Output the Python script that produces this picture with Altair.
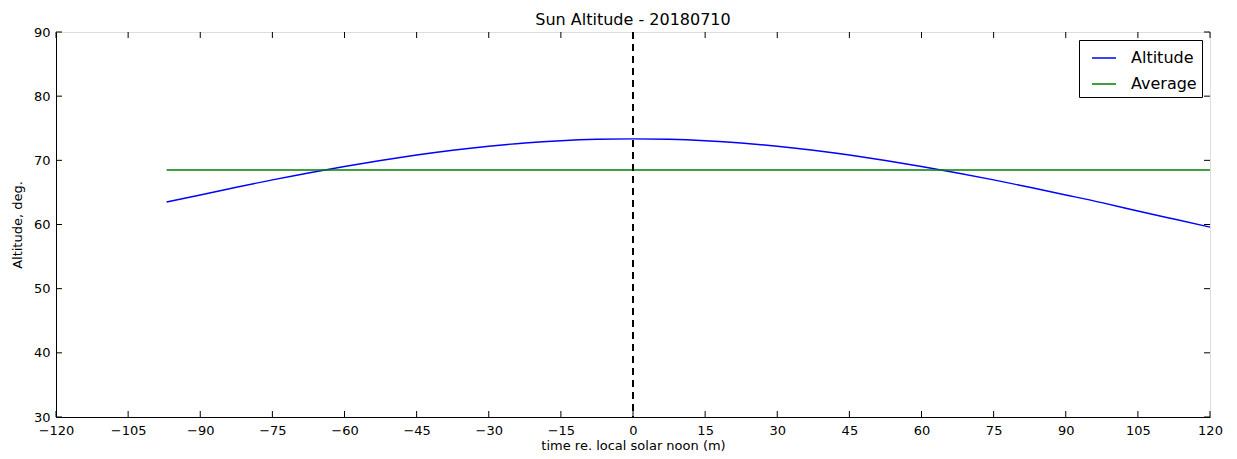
import altair as alt
import pandas as pd

# ---- data ----
minutes = [-97, -90, -82.5, -75, -67.5, -60, -52.5, -45, -37.5, -30, -22.5, -15, -7.5, 0,
           7.5, 15, 22.5, 30, 37.5, 45, 52.5, 60, 67.5, 75, 82.5, 90, 97.5, 105, 112.5, 120]
altitude = [63.50, 64.60, 65.80, 66.95, 68.02, 69.03, 69.97, 70.83, 71.58, 72.20, 72.70, 73.06, 73.28, 73.35,
            73.28, 73.06, 72.70, 72.20, 71.58, 70.83, 69.97, 69.03, 68.02, 66.95, 65.80, 64.60, 63.40, 62.10, 60.85, 59.60]
avg_minutes = [-97, 120]
avg_altitude = 68.5
noon = [0]
x_ticks = list(range(-120, 121, 15))
y_ticks = list(range(30, 91, 10))

W, H = 1154, 385
FONT = "DejaVu Sans"

rows = [{"t": t, "alt": a, "series": "Altitude"} for t, a in zip(minutes, altitude)]
rows += [{"t": t, "alt": avg_altitude, "series": "Average"} for t in avg_minutes]
df = pd.DataFrame(rows)

xscale = alt.Scale(domain=[-120, 120], nice=False, zero=False)
yscale = alt.Scale(domain=[30, 90], nice=False, zero=False)

xaxis = alt.Axis(values=x_ticks, format="d", tickSize=0, labelPadding=7, labelFontSize=13,
                 labelFont=FONT, labelColor="black", domainColor="black", grid=False,
                 labelFlush=False, labelOverlap=False,
                 title="time re. local solar noon (m)", titleFont=FONT, titleFontSize=13,
                 titleFontWeight="normal", titleColor="black", titleY=22, titleBaseline="top")
yaxis = alt.Axis(values=y_ticks, format="d", tickSize=0, labelPadding=6, labelFontSize=13,
                 labelFont=FONT, labelColor="black", domainColor="black", grid=False,
                 labelFlush=False, labelOverlap=False,
                 title="Altitude, deg.", titleFont=FONT, titleFontSize=13, titleFontWeight="normal",
                 titleColor="black", titleX=-39, titleY=H / 2, titleAngle=270,
                 titleAlign="center", titleBaseline="middle")

lines = alt.Chart(df).mark_line(strokeWidth=1.4, interpolate="natural").encode(
    x=alt.X("t:Q", scale=xscale, axis=xaxis),
    y=alt.Y("alt:Q", scale=yscale, axis=yaxis),
    color=alt.Color("series:N",
                    scale=alt.Scale(domain=["Altitude", "Average"], range=["#0000ff", "#008000"]),
                    legend=alt.Legend(title=None, orient="top-right", offset=8,
                                      strokeColor="black", fillColor="white", padding=5,
                                      cornerRadius=0, symbolType="stroke", symbolSize=576,
                                      symbolStrokeWidth=1.5, labelFontSize=16, labelFont=FONT,
                                      labelColor="black", labelOffset=14, symbolOffset=7,
                                      rowPadding=5)),
    detail="series:N",
)

vline = alt.Chart(pd.DataFrame({"t": noon})).mark_rule(
    color="black", strokeWidth=2, strokeDash=[7, 5]).encode(x=alt.X("t:Q", scale=xscale))

xt = pd.DataFrame({"v": x_ticks})
yt = pd.DataFrame({"v": y_ticks})
tick_style = dict(color="black", strokeWidth=1)
xt_bottom = alt.Chart(xt).mark_rule(**tick_style).encode(
    x=alt.X("v:Q", scale=xscale), y=alt.value(H), y2=alt.value(H - 6))
xt_top = alt.Chart(xt).mark_rule(**tick_style).encode(
    x=alt.X("v:Q", scale=xscale), y=alt.value(0), y2=alt.value(6))
yt_left = alt.Chart(yt).mark_rule(**tick_style).encode(
    y=alt.Y("v:Q", scale=yscale), x=alt.value(0), x2=alt.value(6))
yt_right = alt.Chart(yt).mark_rule(**tick_style).encode(
    y=alt.Y("v:Q", scale=yscale), x=alt.value(W), x2=alt.value(W - 6))

chart = alt.layer(lines, vline, xt_bottom, xt_top, yt_left, yt_right).properties(
    width=W, height=H,
    autosize=alt.AutoSizeParams(type="none"),
    padding={"left": 48, "top": 24, "right": 19, "bottom": 34},
    title=alt.TitleParams("Sun Altitude - 20180710", fontSize=16, font=FONT,
                          fontWeight="normal", color="black", offset=4, dy=6, anchor="middle"),
).configure_view(stroke="black", strokeWidth=1).configure(background="white")

chart.save("out.html", embed_options={"renderer": "svg", "actions": False})
